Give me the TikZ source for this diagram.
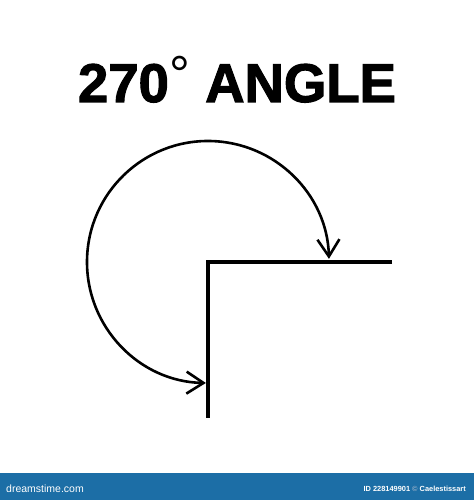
\documentclass[tikz,border=0pt]{standalone}
\usepackage{fontspec}
\setmainfont{Liberation Sans}
\newfontfamily\titlefont[FakeBold=2]{Liberation Sans Bold}
\newfontfamily\degfont{Liberation Sans}
\usetikzlibrary{arrows.meta,calc}
\definecolor{bannerblue}{RGB}{28,110,166}
\definecolor{copygray}{RGB}{150,175,200}
\tikzset{
  arm/.style={line width=4pt, line join=miter, line cap=butt},
  turn/.style={line width=2.6pt, {Straight Barb[length=17pt,width=22pt]}-{Straight Barb[length=17pt,width=22pt]}},
  titletext/.style={font=\titlefont\fontsize{54.5}{60}\selectfont, anchor=base, inner sep=0pt},
  bannertext/.style={text=white, inner sep=0pt, anchor=base west}
}
\begin{document}
\begin{tikzpicture}[x=1pt,y=1pt]
\useasboundingbox (0,0) rectangle (474,500);
\fill[white] (0,0) rectangle (474,500);
% title
\node[titletext] (title) at (237,398) {270\kern0.5pt\raisebox{9pt}{\degfont\fontsize{52}{52}\selectfont °}\kern15pt ANGLE};
% angle arms
\coordinate (V) at (208,238);
\coordinate (R) at (392,238);
\coordinate (D) at (208,82);
\draw[arm] (R) -- (V) -- (D);
% 270 degree arc
\coordinate (S) at ($(V)+(269:121)$);
\draw[turn] (S) arc[start angle=269, end angle=1.5, radius=121];
% banner
\fill[bannerblue] (0,0) rectangle (474,27) coordinate (bannertop);
\node[bannertext, font=\fontsize{10.5}{12}\selectfont] (site) at (6,8) {dreamstime.com};
\node[bannertext, anchor=base east, font=\bfseries\fontsize{7.4}{9}\selectfont] (credit) at (466,9) {ID 228149901 {\color{copygray}©} Caelestissart};
\end{tikzpicture}
\end{document}
